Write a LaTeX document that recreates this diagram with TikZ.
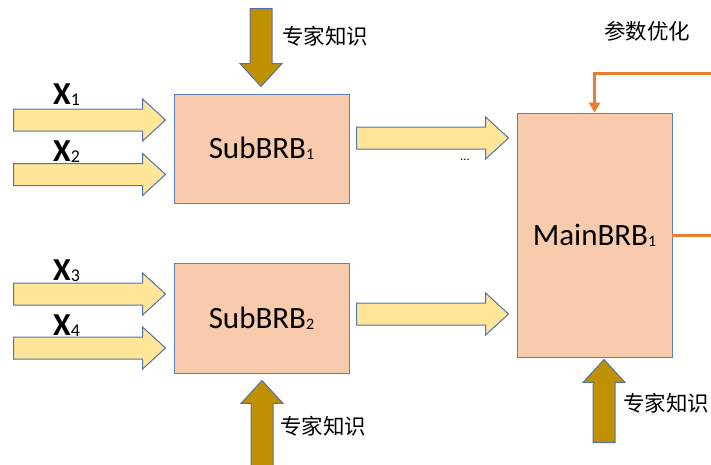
\documentclass[tikz,border=0pt]{standalone}
\usepackage{fontspec}
\setmainfont{Carlito}
\newfontfamily\cjk{Noto Sans CJK SC}
\usetikzlibrary{shapes.arrows,arrows.meta}
\definecolor{boxfill}{HTML}{F8CBAD}
\definecolor{boxline}{HTML}{5B7FC0}
\definecolor{arrfill}{HTML}{FFE699}
\definecolor{arrline}{HTML}{5473A8}
\definecolor{gold}{HTML}{BF9000}
\definecolor{optcol}{HTML}{ED7D31}
\newcommand\lowsub[2]{{\fontsize{#1}{#1}\selectfont\raisebox{-1pt}{#2}}}
\tikzset{
  brb/.style={draw=boxline, fill=boxfill, line width=0.8pt, inner sep=0pt,
    font=\fontsize{31}{32}\selectfont},
  blockarrow/.style={single arrow, draw=arrline, line width=1pt, inner xsep=0pt,
    inner ysep=10.5pt, minimum width=1pt, single arrow head extend=10pt,
    single arrow tip angle=85, anchor=tail},
  inarrow/.style={blockarrow, fill=arrfill},
  knowarrow/.style={blockarrow, fill=gold},
  xlab/.style={anchor=base west, inner sep=0pt, font=\bfseries\fontsize{32}{32}\selectfont},
  cjklab/.style={font=\cjk\fontsize{21.5}{24}\selectfont, inner sep=0pt},
  optline/.style={draw=optcol, line width=3pt}
}
\begin{document}
\begin{tikzpicture}[x=1pt,y=-1pt]
\useasboundingbox (0,0) rectangle (711,464);
% rule bases
\node[brb, minimum width=175pt, minimum height=109pt] (sub1) at (261.5,148.5) {SubBRB\lowsub{16}{1}};
\node[brb, minimum width=175pt, minimum height=110pt] (sub2) at (261.5,318) {SubBRB\lowsub{16}{2}};
\node[brb, minimum width=155pt, minimum height=244pt] (main) at (594.5,235) {MainBRB\lowsub{16}{1}};
% inputs
\node[inarrow, minimum height=152pt] (in1) at (13,120) {};
\node[inarrow, minimum height=152pt] (in2) at (13,174.5) {};
\node[inarrow, minimum height=152pt] (in3) at (13,294) {};
\node[inarrow, minimum height=152pt] (in4) at (13,348) {};
\node[xlab] (x1) at (53,104) {X\lowsub{18}{\mdseries 1}};
\node[xlab] (x2) at (53,161) {X\lowsub{18}{\mdseries 2}};
\node[xlab] (x3) at (53,280) {X\lowsub{18}{\mdseries 3}};
\node[xlab] (x4) at (53,335) {X\lowsub{18}{\mdseries 4}};
% sub outputs
\node[inarrow, minimum height=152pt] (out1) at (356,138) {};
\node[inarrow, minimum height=152pt] (out2) at (356,314) {};
\node[font=\fontsize{12}{12}\selectfont, inner sep=0pt] (dots) at (465,160) {...};
% expert knowledge
\node[knowarrow, rotate=-90, minimum height=78pt] (ek1) at (261,8) {};
\node[knowarrow, rotate=90, minimum height=89pt] (ek2) at (262,470) {};
\node[knowarrow, rotate=90, minimum height=83pt] (ek3) at (604,443) {};
\node[cjklab] (k1) at (325,36) {专家知识};
\node[cjklab] (k2) at (323,426) {专家知识};
\node[cjklab] (k3) at (666,403) {专家知识};
% parameter optimisation
\node[cjklab] (opt) at (647,31) {参数优化};
\coordinate (optin) at (713,73);
\coordinate (optout) at (713,235);
\draw[optline, -{Triangle[length=10pt,width=11pt]}] (optin) -| (main.north);
\draw[optline] (main.east) -- (optout);
\end{tikzpicture}
\end{document}
